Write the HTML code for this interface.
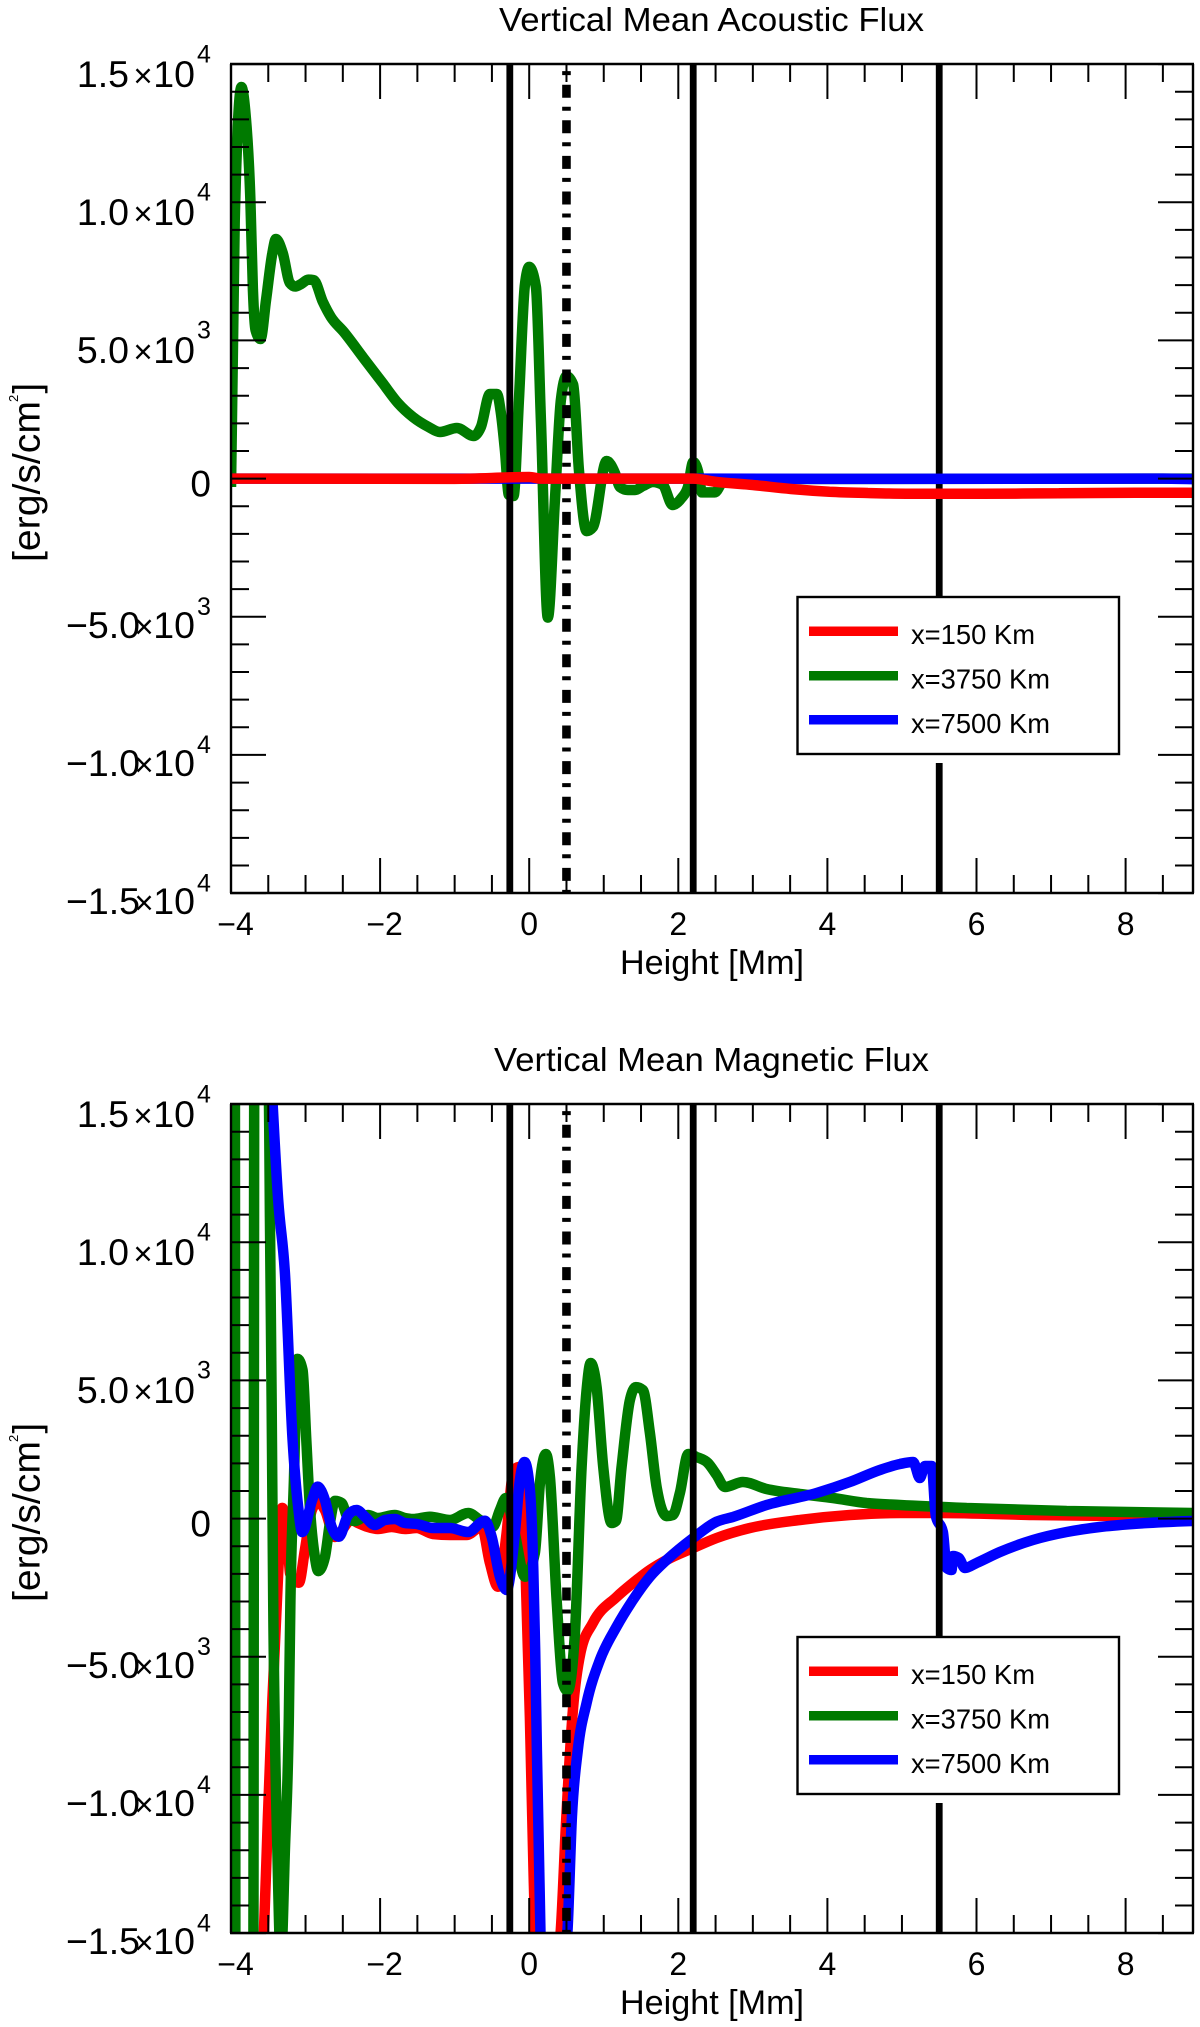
<!DOCTYPE html>
<html lang="en">
<head>
<meta charset="utf-8">
<title>Vertical Mean Acoustic and Magnetic Flux</title>
<style>
html,body{margin:0;padding:0;background:#fff;}
svg{display:block;font-family:"Liberation Sans",Arial,Helvetica,sans-serif;fill:#000;}
</style>
</head>
<body>
<svg id="figure" xmlns="http://www.w3.org/2000/svg" width="1200" height="2027" viewBox="0 0 1200 2027">
  <defs>
    <clipPath id="plot-clip"><rect x="231" y="64" width="962" height="829"></rect></clipPath>
  </defs>
  <rect x="0" y="0" width="1200" height="2027" fill="#fff"></rect>

  <g id="panel-acoustic">
    <text x="499" y="31" font-size="33" textLength="425" lengthAdjust="spacingAndGlyphs">Vertical Mean Acoustic Flux</text>
    <g id="a-low" clip-path="url(#plot-clip)"></g>
    <g id="a-lines" clip-path="url(#plot-clip)"></g>
    <g id="a-high" clip-path="url(#plot-clip)"></g>
    <g id="a-axes"></g>
    <text x="620" y="974" font-size="34" textLength="184" lengthAdjust="spacingAndGlyphs">Height [Mm]</text>
    <g>
      <text transform="translate(39.5,562) rotate(-90)" font-size="38" textLength="161" lengthAdjust="spacingAndGlyphs">[erg/s/cm</text>
      <text transform="translate(18,402) rotate(-90)" font-size="13">2</text>
      <text transform="translate(39.5,393.5) rotate(-90)" font-size="38">]</text>
    </g>
    <g>
      <rect x="796" y="596" width="325" height="167" fill="#fff"></rect>
      <rect x="797.5" y="597" width="321.5" height="157" fill="#fff" stroke="#000" stroke-width="2.4"></rect>
      <rect x="809" y="626.5" width="89" height="9.5" fill="#ff0000"></rect>
      <rect x="809" y="671" width="89" height="9.5" fill="#007a00"></rect>
      <rect x="809" y="715" width="89" height="9.5" fill="#0000ff"></rect>
      <text x="911" y="644" font-size="28" textLength="124" lengthAdjust="spacingAndGlyphs">x=150 Km</text>
      <text x="911" y="688.5" font-size="28" textLength="139" lengthAdjust="spacingAndGlyphs">x=3750 Km</text>
      <text x="911" y="733" font-size="28" textLength="139" lengthAdjust="spacingAndGlyphs">x=7500 Km</text>
    </g>
  </g>

  <g id="panel-magnetic" transform="translate(0,1040)">
    <text x="494" y="31" font-size="33" textLength="435" lengthAdjust="spacingAndGlyphs">Vertical Mean Magnetic Flux</text>
    <g id="m-low" clip-path="url(#plot-clip)"></g>
    <g id="m-lines" clip-path="url(#plot-clip)"></g>
    <g id="m-axes"></g>
    <text x="620" y="974" font-size="34" textLength="184" lengthAdjust="spacingAndGlyphs">Height [Mm]</text>
    <g>
      <text transform="translate(39.5,562) rotate(-90)" font-size="38" textLength="161" lengthAdjust="spacingAndGlyphs">[erg/s/cm</text>
      <text transform="translate(18,402) rotate(-90)" font-size="13">2</text>
      <text transform="translate(39.5,393.5) rotate(-90)" font-size="38">]</text>
    </g>
    <g>
      <rect x="796" y="596" width="325" height="167" fill="#fff"></rect>
      <rect x="797.5" y="597" width="321.5" height="157" fill="#fff" stroke="#000" stroke-width="2.4"></rect>
      <rect x="809" y="626.5" width="89" height="9.5" fill="#ff0000"></rect>
      <rect x="809" y="671" width="89" height="9.5" fill="#007a00"></rect>
      <rect x="809" y="715" width="89" height="9.5" fill="#0000ff"></rect>
      <text x="911" y="644" font-size="28" textLength="124" lengthAdjust="spacingAndGlyphs">x=150 Km</text>
      <text x="911" y="688.5" font-size="28" textLength="139" lengthAdjust="spacingAndGlyphs">x=3750 Km</text>
      <text x="911" y="733" font-size="28" textLength="139" lengthAdjust="spacingAndGlyphs">x=7500 Km</text>
    </g>
  </g>
</svg>

<script>
// ---- axis tick data ----
const xMajorTicks = [-4, -2, 0, 2, 4, 6, 8];
const xMajorLabels = ["\u22124", "\u22122", "0", "2", "4", "6", "8"];
const xMinorTicks = [-3.5, -3, -2.5, -1.5, -1, -0.5, 0.5, 1, 1.5, 2.5, 3, 3.5, 4.5, 5, 5.5, 6.5, 7, 7.5, 8.5];
const yMajorTicks = [15000, 10000, 5000, 0, -5000, -10000, -15000];
const yMantissas = ["1.5", "1.0", "5.0", "0", "\u22125.0", "\u22121.0", "\u22121.5"];
const yExponents = ["4", "4", "3", "", "3", "4", "4"];
const yMinorTicks = [14000, 13000, 12000, 11000, 9000, 8000, 7000, 6000, 4000, 3000, 2000, 1000, -1000, -2000, -3000, -4000, -6000, -7000, -8000, -9000, -11000, -12000, -13000, -14000];

// ---- reference lines (height in Mm) ----
const solidLineHeights = [-0.26, 2.2, 5.5];
const dashDotLineHeight = 0.5;

// ---- acoustic flux series ----
const acousticGreenHeights = [-4, -3.95, -3.86, -3.81, -3.74, -3.706, -3.671, -3.604, -3.53, -3.445, -3.398, -3.306, -3.21, -3.137, -3.06, -2.962, -2.89, -2.767, -2.66, -2.486, -2.222, -1.966, -1.761, -1.56, -1.35, -1.198, -0.97, -0.744, -0.648, -0.527, -0.433, -0.38, -0.326, -0.272, -0.21, -0.138, -0.058, 0, 0.09, 0.157, 0.25, 0.345, 0.425, 0.5, 0.59, 0.667, 0.77, 0.854, 1.038, 1.15, 1.217, 1.324, 1.418, 1.525, 1.659, 1.793, 1.923, 2.044, 2.129, 2.2, 2.276, 2.316, 2.488, 2.62, 2.89, 8.9];
const acousticGreenValues = [-304, 9356, 14170, 13339, 10082, 6825, 5378, 5050, 6463, 8164, 8670, 8164, 7078, 6950, 7040, 7200, 7180, 6390, 5848, 5305, 4364, 3460, 2736, 2229, 1867, 1686, 1831, 1542, 1867, 3060, 3060, 2374, 1035, -594, -630, 2844, 7006, 7660, 6934, 2120, -5030, -774, 2844, 3710, 3400, 311, -1900, -1760, 637, 203, -304, -412, -412, -268, -123, -232, -955, -702, -304, 600, 130, -500, -500, -50, -15, 0];
const acousticBlueHeights = [-4, 2.2, 4, 8.5, 8.9];
const acousticBlueValues = [0, 0, -10, 0, -20];
const acousticRedHeights = [-4, -1, 0, 0.15, 2.2, 2.488, 3, 3.51, 4.028, 4.543, 5.053, 6.082, 7.105, 8.135, 8.9];
const acousticRedValues = [0, -10, 58, 0, 0, -112, -232, -376, -474, -521, -546, -546, -532, -510, -510];

// ---- magnetic flux series ----
const magneticGreenHeights = [-3.948, -3.941, -3.702, -3.686, -3.505, -3.478, -3.455, -3.434, -3.378, -3.331, -3.277, -3.224, -3.203, -3.156, -3.107, -3.04, -2.99, -2.942, -2.875, -2.83, -2.74, -2.673, -2.606, -2.516, -2.432, -2.338, -2.164, -2.03, -1.802, -1.668, -1.56, -1.332, -1.064, -0.818, -0.661, -0.487, -0.393, -0.313, -0.195, -0.058, 0.076, 0.144, 0.224, 0.278, 0.368, 0.452, 0.515, 0.613, 0.703, 0.77, 0.824, 0.904, 0.993, 1.105, 1.163, 1.239, 1.351, 1.431, 1.525, 1.619, 1.709, 1.843, 1.928, 2.021, 2.133, 2.245, 2.397, 2.514, 2.625, 2.867, 3.184, 3.631, 4.074, 4.526, 4.973, 5.867, 7.209, 8.9];
const magneticGreenValues = [18770, -18500, -18500, 18770, 18770, 10915, 4292, -2946, -11993, -16000, -11990, -7180, -2946, 1397, 5780, 5378, 2845, 420, -1393, -1900, -1393, -159, 640, 565, 22, -87, 130, 22, 130, 22, -14, 69, -51, 203, -51, -293, 311, 745, -521, -2103, -1245, 1288, 2340, 1505, -2946, -5950, -6240, -4140, 1867, 4654, 5630, 4762, 1867, -160, -90, 1867, 4292, 4760, 4654, 3098, 1144, 90, 130, 926, 2340, 2229, 2012, 1578, 1144, 1325, 1071, 890, 745, 565, 492, 384, 275, 203];
const magneticBlueHeights = [-3.472, -3.367, -3.277, -3.174, -3.099, -3.045, -2.911, -2.838, -2.74, -2.651, -2.553, -2.428, -2.315, -2.204, -2.07, -1.936, -1.802, -1.668, -1.51, -1.292, -1.064, -0.822, -0.594, -0.504, -0.393, -0.303, -0.192, -0.125, -0.062, 0.009, 0.054, 0.08, 0.103, 0.138, 0.164, 0.479, 0.512, 0.573, 0.652, 0.77, 0.948, 1.172, 1.391, 1.619, 1.843, 2.2, 2.514, 2.732, 3.184, 3.855, 4.302, 4.704, 4.973, 5.151, 5.24, 5.308, 5.398, 5.455, 5.549, 5.6, 5.666, 5.683, 5.764, 5.844, 6.001, 6.314, 6.757, 7.209, 7.652, 8.094, 8.9];
const magneticBlueValues = [16597, 11530, 8888, 2845, 420, -490, 673, 1155, 673, -293, -655, 130, 311, 69, -232, -51, -14, -159, -195, -340, -340, -485, -76, -655, -2103, -2584, -521, 1397, 2050, 1035, -1741, -4755, -8374, -13188, -15974, -15974, -14997, -10788, -8374, -6673, -5117, -3912, -2946, -2103, -1498, -702, -112, 58, 492, 926, 1325, 1759, 1976, 2048, 1469, 1904, 1904, 94, -485, -1788, -1860, -1354, -1426, -1788, -1607, -1209, -774, -485, -304, -195, -87];
const magneticRedHeights = [-3.639, -3.559, -3.505, -3.445, -3.367, -3.313, -3.237, -3.21, -3.089, -3.009, -2.915, -2.833, -2.74, -2.606, -2.381, -2.298, -2.164, -2.03, -1.846, -1.667, -1.51, -1.292, -1.064, -0.84, -0.639, -0.527, -0.42, -0.303, -0.232, -0.192, -0.125, -0.089, -0.044, 0.009, 0.062, 0.097, 0.385, 0.421, 0.498, 0.586, 0.687, 0.854, 1.172, 1.391, 1.619, 1.843, 2.2, 2.514, 2.96, 3.631, 4.302, 4.973, 5.509, 6.757, 8.9];
const magneticRedValues = [-18500, -14997, -10795, -6565, -1969, 390, -774, -1969, -2320, -1136, 311, 600, 311, -666, -51, -159, -304, -376, -304, -376, -340, -557, -594, -594, -293, -1607, -2464, -521, 1397, 1800, 1870, 673, -2330, -7180, -13188, -15974, -15974, -14997, -10795, -6927, -4864, -3778, -2837, -2331, -1860, -1498, -1064, -702, -340, -51, 130, 203, 203, 130, 58];

// ---- axis functions ----
const PLOT = { left: 231, right: 1193, top: 64, bottom: 893 };
function xScale(h) { return PLOT.left + (h + 4) * 74.55; }
function yScale(v) { return 478.6 - v * 0.027633; }
const SVG_NS = "http://www.w3.org/2000/svg";

// Monotone cubic interpolation in x so slow parts of each curve stay smooth without overshoot.
function curvePath(xs, ys) {
  const n = xs.length;
  const sign = v => (v < 0 ? -1 : 1);
  const slopes = [];
  for (let i = 0; i < n - 1; i++) slopes.push((ys[i + 1] - ys[i]) / (xs[i + 1] - xs[i]));
  const tangents = new Array(n).fill(0);
  for (let i = 1; i < n - 1; i++) {
    const h0 = xs[i] - xs[i - 1];
    const h1 = xs[i + 1] - xs[i];
    const s0 = slopes[i - 1];
    const s1 = slopes[i];
    const p = (s0 * h1 + s1 * h0) / (h0 + h1);
    tangents[i] = (sign(s0) + sign(s1)) * Math.min(Math.abs(s0), Math.abs(s1), 0.5 * Math.abs(p)) || 0;
  }
  tangents[0] = (3 * slopes[0] - tangents[1]) / 2;
  tangents[n - 1] = (3 * slopes[n - 2] - tangents[n - 2]) / 2;
  let d = "M" + xs[0].toFixed(2) + " " + ys[0].toFixed(2);
  for (let i = 0; i < n - 1; i++) {
    const dx = (xs[i + 1] - xs[i]) / 3;
    d += "C" + (xs[i] + dx).toFixed(2) + " " + (ys[i] + dx * tangents[i]).toFixed(2) + " " +
      (xs[i + 1] - dx).toFixed(2) + " " + (ys[i + 1] - dx * tangents[i + 1]).toFixed(2) + " " +
      xs[i + 1].toFixed(2) + " " + ys[i + 1].toFixed(2);
  }
  return d;
}

function drawCurve(parent, heights, values, color, name) {
  const path = document.createElementNS(SVG_NS, "path");
  path.setAttribute("d", curvePath(heights.map(xScale), values.map(yScale)));
  path.setAttribute("fill", "none");
  path.setAttribute("stroke", color);
  path.setAttribute("stroke-width", "10.5");
  path.setAttribute("stroke-linejoin", "bevel");
  
  
  parent.appendChild(path);
}

function drawLine(parent, x1, y1, x2, y2, width, name) {
  const line = document.createElementNS(SVG_NS, "line");
  line.setAttribute("x1", x1);
  line.setAttribute("y1", y1);
  line.setAttribute("x2", x2);
  line.setAttribute("y2", y2);
  line.setAttribute("stroke", "#000");
  line.setAttribute("stroke-width", width);
  
  
  parent.appendChild(line);
  return line;
}

function drawText(parent, x, y, size, anchor, content, name) {
  const t = document.createElementNS(SVG_NS, "text");
  t.setAttribute("x", x);
  t.setAttribute("y", y);
  t.setAttribute("font-size", size);
  t.setAttribute("text-anchor", anchor);
  
  
  t.textContent = content;
  parent.appendChild(t);
}

function drawReferenceLines(parent) {
  solidLineHeights.forEach(h => {
    drawLine(parent, xScale(h), PLOT.top, xScale(h), PLOT.bottom, 6.8, "solid-reference-line");
  });
  const dash = drawLine(parent, xScale(dashDotLineHeight), PLOT.top, xScale(dashDotLineHeight), PLOT.bottom, 8.6, "dash-dot-reference-line");
  dash.setAttribute("stroke-dasharray", "13 9 4 9.6");
  dash.setAttribute("stroke-dashoffset", "14.9");
}

function drawAxes(parent) {
  const { left, right, top, bottom } = PLOT;
  xMajorTicks.forEach((h, i) => {
    const x = xScale(h);
    drawLine(parent, x, bottom, x, bottom - 35, 2, "x-major-tick-bottom");
    drawLine(parent, x, top, x, top + 35, 2, "x-major-tick-top");
    const shift = h < 0 ? 4.5 : 0;
    drawText(parent, x + shift, 935, 32, "middle", xMajorLabels[i], "x-tick-label");
  });
  xMinorTicks.forEach(h => {
    const x = xScale(h);
    drawLine(parent, x, bottom, x, bottom - 18, 2, "x-minor-tick-bottom");
    drawLine(parent, x, top, x, top + 18, 2, "x-minor-tick-top");
  });
  yMajorTicks.forEach((v, i) => {
    const y = yScale(v);
    drawLine(parent, left, y, left + 35, y, 2, "y-major-tick-left");
    drawLine(parent, right, y, right - 35, y, 2, "y-major-tick-right");
    if (v === 0) {
      drawText(parent, 211, y + 18, 37, "end", yMantissas[i], "y-tick-label");
      return;
    }
    const neg = v < 0;
    const base = y + (neg ? 21 : 22.7);
    drawText(parent, neg ? 140 : 129, base, 37.5, "end", yMantissas[i], "y-tick-mantissa");
    drawText(parent, neg ? 144 : 143, base, 33, "middle", "\u00d7", "y-tick-times");
    drawText(parent, 195, base, 37.5, "end", "10", "y-tick-base");
    drawText(parent, 197, y - 1.7, 25, "start", yExponents[i], "y-tick-exponent");
  });
  yMinorTicks.forEach(v => {
    const y = yScale(v);
    drawLine(parent, left, y, left + 18, y, 2, "y-minor-tick-left");
    drawLine(parent, right, y, right - 18, y, 2, "y-minor-tick-right");
  });
  drawLine(parent, left - 1, top, right + 1, top, 2.4, "top-axis");
  drawLine(parent, left - 1, bottom, right + 1, bottom, 2.4, "x-axis");
  drawLine(parent, left, top, left, bottom, 2.4, "y-axis");
  drawLine(parent, right, top, right, bottom, 2.4, "right-axis");
}

// ---- acoustic panel ----
const aLow = document.getElementById("a-low");
const aHigh = document.getElementById("a-high");
drawCurve(aLow, acousticGreenHeights, acousticGreenValues, "#007a00", "acoustic-curve-x3750");
drawReferenceLines(document.getElementById("a-lines"));
drawCurve(aHigh, acousticBlueHeights, acousticBlueValues, "#0000ff", "acoustic-curve-x7500");
drawCurve(aHigh, acousticRedHeights, acousticRedValues, "#ff0000", "acoustic-curve-x150");
drawAxes(document.getElementById("a-axes"));

// ---- magnetic panel ----
const mLow = document.getElementById("m-low");
drawCurve(mLow, magneticRedHeights, magneticRedValues, "#ff0000", "magnetic-curve-x150");
drawCurve(mLow, magneticGreenHeights, magneticGreenValues, "#007a00", "magnetic-curve-x3750");
drawCurve(mLow, magneticBlueHeights, magneticBlueValues, "#0000ff", "magnetic-curve-x7500");
drawReferenceLines(document.getElementById("m-lines"));
drawAxes(document.getElementById("m-axes"));
</script>
</body>
</html>
